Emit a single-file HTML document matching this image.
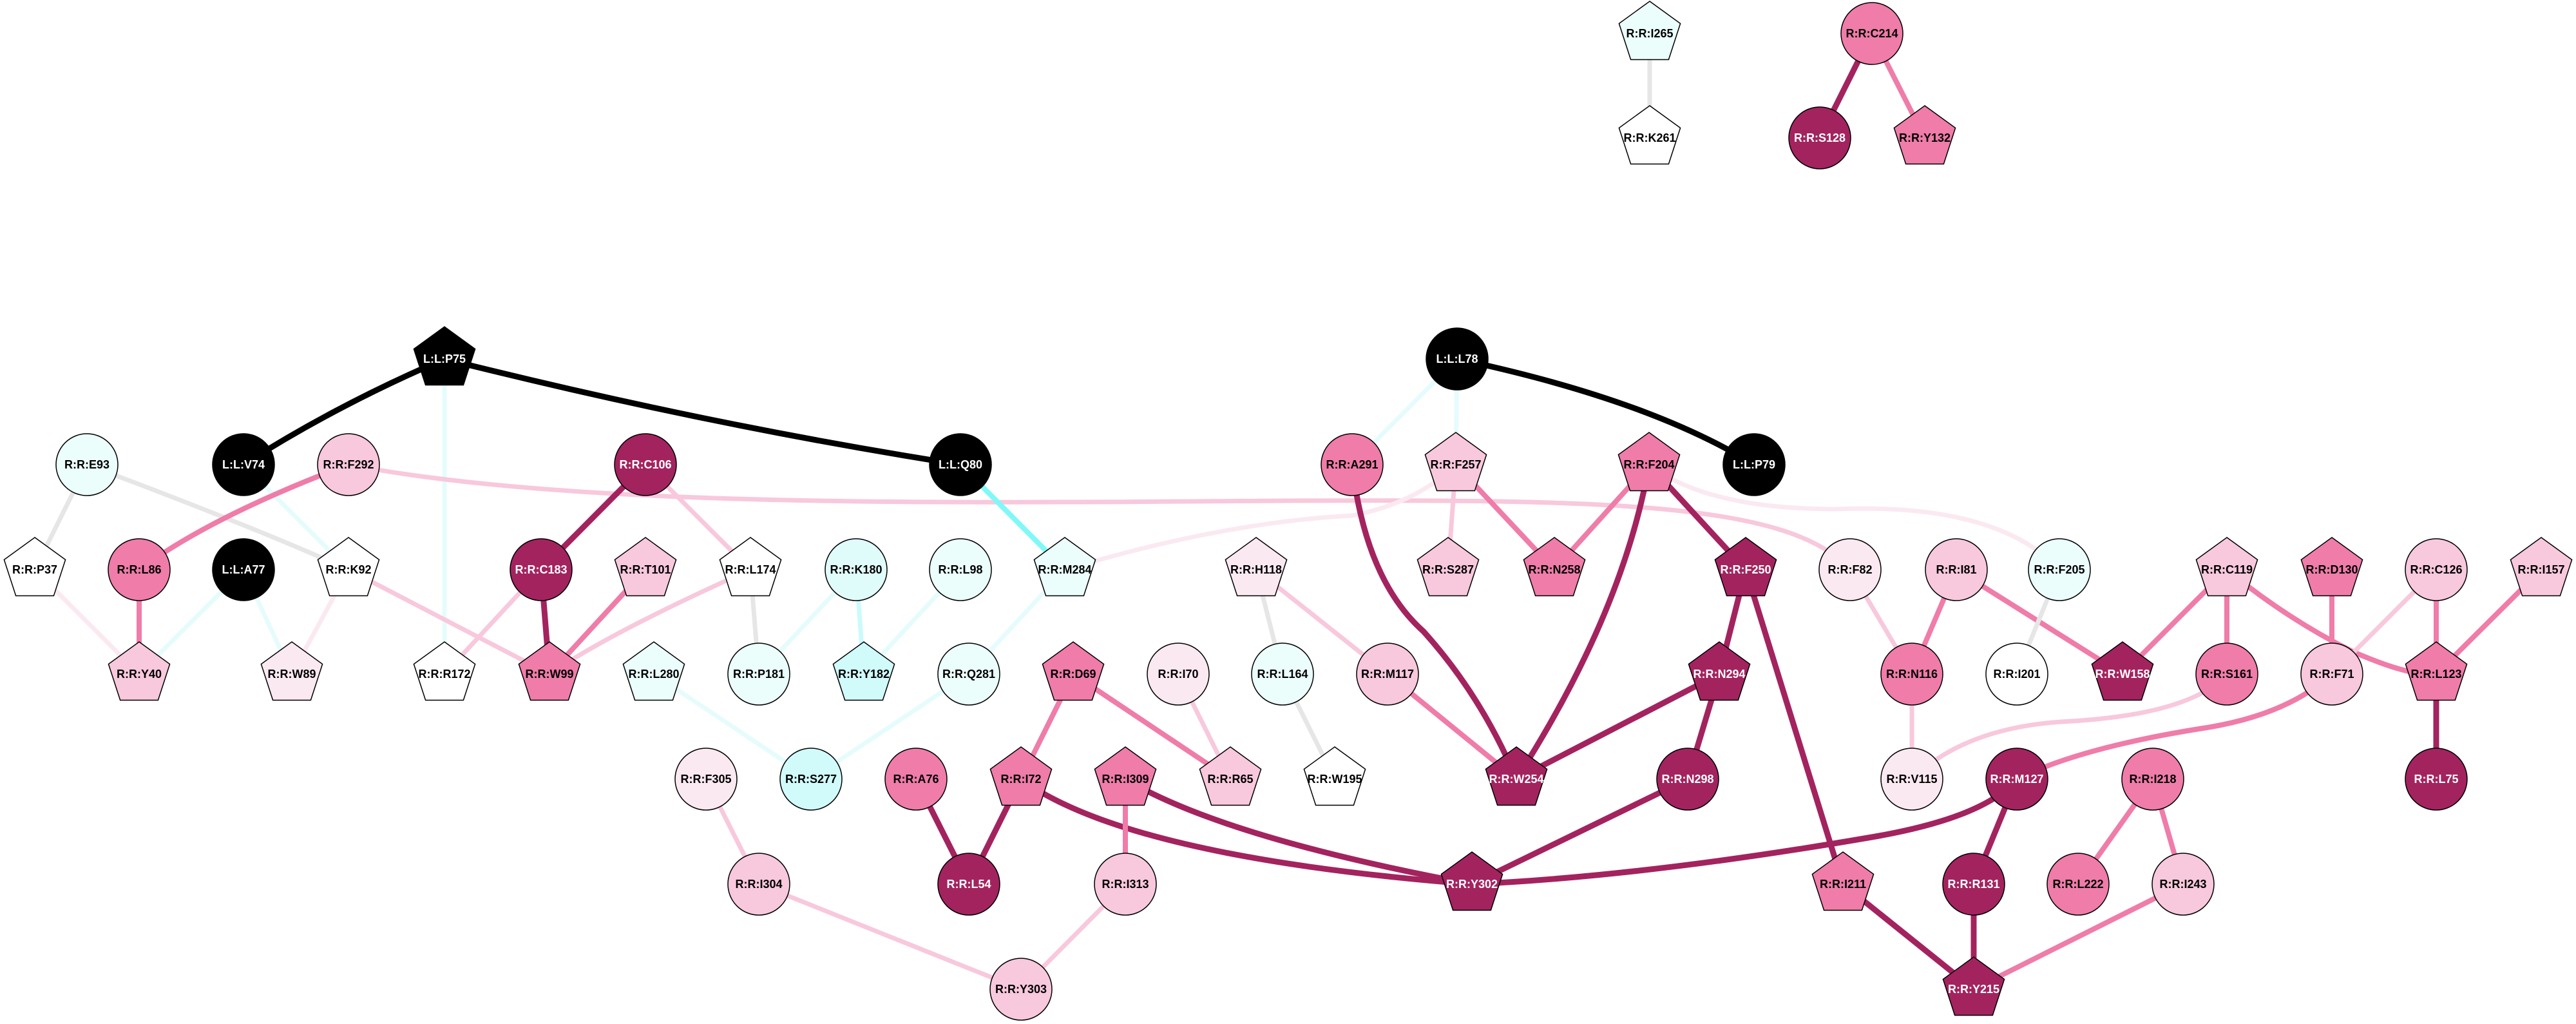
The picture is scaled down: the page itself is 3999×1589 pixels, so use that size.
<!DOCTYPE html>
<html><head><meta charset="utf-8"><style>
html,body{margin:0;padding:0;background:#fff;}
svg{display:block;}
text{font-family:"Liberation Sans",Arial,sans-serif;font-weight:bold;font-size:18px;text-anchor:middle;}
.w{fill:#fff}
.b{fill:#000}
.n{stroke:#000;stroke-width:1.5}
.e{fill:none;stroke-linecap:butt}
.k{stroke:#000;stroke-width:9}
.d{stroke:#a3235f;stroke-width:9}
.m{stroke:#ef7ca9;stroke-width:8}
.l{stroke:#f8c8dc;stroke-width:7}
.v{stroke:#fbe9f1;stroke-width:7}
.g{stroke:#e6e6e6;stroke-width:7}
.c{stroke:#e6fcfc;stroke-width:7}
.cc{stroke:#cbfafa;stroke-width:7}
.cy{stroke:#80f8f8;stroke-width:8}
</style></head><body>
<svg width="3999" height="1589" viewBox="0 0 3999 1589" xmlns="http://www.w3.org/2000/svg">
<defs>
<polygon id="p" points="0,-50 47.6,-15.5 29.4,40.5 -29.4,40.5 -47.6,-15.5"/>
</defs>
<!-- edges -->
<g class="e">
<line class="g" x1="2561" y1="52" x2="2561" y2="214"/>
<line class="d" x1="2906" y1="52" x2="2825" y2="214"/>
<line class="m" x1="2906" y1="52" x2="2988" y2="214"/>

<path class="k" d="M690 557 Q520 630 378 721"/>
<path class="k" d="M690 557 Q1100 660 1491 721"/>
<line class="c" x1="690" y1="557" x2="690" y2="1046"/>
<path class="k" d="M2262 557 Q2560 620 2723 721"/>
<line class="c" x1="2262" y1="557" x2="2099" y2="721"/>
<line class="c" x1="2262" y1="557" x2="2260" y2="721"/>

<line class="g" x1="135" y1="721" x2="54" y2="884"/>
<path class="g" d="M135 721 Q400 820 541 884"/>
<line class="c" x1="378" y1="721" x2="541" y2="884"/>
<path class="m" d="M541 721 Q330 800 216 884"/>
<path class="l" d="M541 721 C900 790 1500 780 2000 777 C2500 775 2780 780 2872 884"/>
<line class="v" x1="54" y1="884" x2="216" y2="1046"/>
<line class="m" x1="216" y1="884" x2="216" y2="1046"/>
<line class="c" x1="378" y1="884" x2="216" y2="1046"/>
<line class="c" x1="378" y1="884" x2="453" y2="1046"/>
<line class="v" x1="541" y1="884" x2="453" y2="1046"/>
<line class="l" x1="541" y1="884" x2="853" y2="1046"/>
<line class="d" x1="1002" y1="721" x2="840" y2="884"/>
<line class="l" x1="1002" y1="721" x2="1165" y2="884"/>
<line class="l" x1="840" y1="884" x2="690" y2="1046"/>
<line class="d" x1="840" y1="884" x2="853" y2="1046"/>
<line class="m" x1="1002" y1="884" x2="853" y2="1046"/>
<path class="l" d="M1165 884 Q950 980 853 1046"/>
<line class="g" x1="1165" y1="884" x2="1178" y2="1046"/>
<line class="c" x1="1329" y1="884" x2="1178" y2="1046"/>
<line class="cc" x1="1329" y1="884" x2="1341" y2="1046"/>
<line class="c" x1="1491" y1="884" x2="1341" y2="1046"/>
<line class="cy" x1="1491" y1="721" x2="1653" y2="884"/>
<line class="c" x1="1653" y1="884" x2="1504" y2="1046"/>
<path class="v" d="M1653 884 Q1900 810 2100 800 Q2200 780 2260 721"/>
<line class="c" x1="1504" y1="1046" x2="1259" y2="1209"/>
<line class="c" x1="1015" y1="1046" x2="1259" y2="1209"/>
<line class="g" x1="1950" y1="884" x2="1991" y2="1046"/>
<line class="l" x1="1950" y1="884" x2="2154" y2="1046"/>
<line class="g" x1="1991" y1="1046" x2="2072" y2="1209"/>
<line class="m" x1="2154" y1="1046" x2="2354" y2="1209"/>
<path class="d" d="M2099 721 Q2120 900 2210 980 Q2300 1080 2354 1209"/>
<line class="l" x1="2260" y1="721" x2="2248" y2="884"/>
<line class="m" x1="2260" y1="721" x2="2413" y2="884"/>
<line class="m" x1="2560" y1="721" x2="2413" y2="884"/>
<path class="d" d="M2560 721 Q2520 950 2354 1209"/>
<line class="d" x1="2560" y1="721" x2="2710" y2="884"/>
<path class="v" d="M2560 721 Q2650 790 2850 790 Q3100 780 3197 884"/>
<line class="d" x1="2710" y1="884" x2="2669" y2="1046"/>
<line class="d" x1="2710" y1="884" x2="2861" y2="1372"/>
<line class="d" x1="2669" y1="1046" x2="2354" y2="1209"/>
<line class="d" x1="2669" y1="1046" x2="2620" y2="1209"/>
<line class="d" x1="2620" y1="1209" x2="2285" y2="1372"/>
<path class="d" d="M3131 1209 Q3080 1270 2900 1300 Q2550 1360 2285 1372"/>
<path class="d" d="M1585 1209 Q1750 1330 2285 1372"/>
<path class="d" d="M1747 1209 Q1900 1300 2285 1372"/>
<line class="m" x1="1666" y1="1046" x2="1585" y2="1209"/>
<line class="m" x1="1666" y1="1046" x2="1910" y2="1209"/>
<line class="l" x1="1829" y1="1046" x2="1910" y2="1209"/>
<line class="d" x1="1422" y1="1209" x2="1504" y2="1372"/>
<line class="d" x1="1585" y1="1209" x2="1504" y2="1372"/>
<line class="m" x1="1747" y1="1209" x2="1747" y2="1372"/>
<line class="l" x1="1747" y1="1372" x2="1585" y2="1535"/>
<line class="l" x1="1178" y1="1372" x2="1585" y2="1535"/>
<line class="l" x1="1096" y1="1209" x2="1178" y2="1372"/>
<line class="l" x1="2872" y1="884" x2="2968" y2="1046"/>
<line class="m" x1="3037" y1="884" x2="2968" y2="1046"/>
<line class="m" x1="3037" y1="884" x2="3295" y2="1046"/>
<line class="g" x1="3197" y1="884" x2="3131" y2="1046"/>
<line class="l" x1="2968" y1="1046" x2="2968" y2="1209"/>
<path class="l" d="M2968 1209 Q3050 1130 3200 1120 Q3400 1110 3457 1046"/>
<line class="m" x1="3457" y1="884" x2="3295" y2="1046"/>
<line class="m" x1="3457" y1="884" x2="3457" y2="1046"/>
<path class="m" d="M3457 884 Q3550 960 3650 1010 Q3740 1050 3782 1046"/>
<line class="m" x1="3620" y1="884" x2="3620" y2="1046"/>
<line class="l" x1="3782" y1="884" x2="3620" y2="1046"/>
<line class="m" x1="3782" y1="884" x2="3782" y2="1046"/>
<line class="m" x1="3945" y1="884" x2="3782" y2="1046"/>
<line class="d" x1="3782" y1="1046" x2="3782" y2="1209"/>
<path class="m" d="M3620 1046 Q3550 1110 3420 1130 Q3230 1160 3131 1209"/>
<line class="d" x1="3131" y1="1209" x2="3064" y2="1372"/>
<line class="d" x1="3064" y1="1372" x2="3064" y2="1535"/>
<line class="d" x1="2861" y1="1372" x2="3064" y2="1535"/>
<line class="m" x1="3342" y1="1209" x2="3226" y2="1372"/>
<line class="m" x1="3342" y1="1209" x2="3389" y2="1372"/>
<line class="m" x1="3389" y1="1372" x2="3064" y2="1535"/>
</g>
<!-- nodes -->
<g class="n">
<use href="#p" x="2561" y="52" fill="#ebfefc"/>
<use href="#p" x="2561" y="214" fill="#fff"/>
<circle cx="2906" cy="52" r="48" fill="#ef7ca9"/>
<circle cx="2825" cy="214" r="48" fill="#a3235f"/>
<use href="#p" x="2988" y="214" fill="#ef7ca9"/>

<use href="#p" x="690" y="557" fill="#000"/>
<circle cx="2262" cy="557" r="48" fill="#000"/>
<circle cx="378" cy="721" r="48" fill="#000"/>
<circle cx="1491" cy="721" r="48" fill="#000"/>
<circle cx="2723" cy="721" r="48" fill="#000"/>
<circle cx="135" cy="721" r="48" fill="#ebfefc"/>
<circle cx="541" cy="721" r="48" fill="#f8c8dc"/>
<circle cx="1002" cy="721" r="48" fill="#a3235f"/>
<circle cx="2099" cy="721" r="48" fill="#ef7ca9"/>
<use href="#p" x="2260" y="721" fill="#f8c8dc"/>
<use href="#p" x="2560" y="721" fill="#ef7ca9"/>

<use href="#p" x="54" y="884" fill="#fff"/>
<circle cx="216" cy="884" r="48" fill="#ef7ca9"/>
<circle cx="378" cy="884" r="48" fill="#000"/>
<use href="#p" x="541" y="884" fill="#fff"/>
<circle cx="840" cy="884" r="48" fill="#a3235f"/>
<use href="#p" x="1002" y="884" fill="#f8c8dc"/>
<use href="#p" x="1165" y="884" fill="#fff"/>
<circle cx="1329" cy="884" r="48" fill="#e0fcfa"/>
<circle cx="1491" cy="884" r="48" fill="#ebfefc"/>
<use href="#p" x="1653" y="884" fill="#ebfefc"/>
<use href="#p" x="1950" y="884" fill="#fbe9f1"/>
<use href="#p" x="2248" y="884" fill="#f8c8dc"/>
<use href="#p" x="2413" y="884" fill="#ef7ca9"/>
<use href="#p" x="2710" y="884" fill="#a3235f"/>
<circle cx="2872" cy="884" r="48" fill="#fbe9f1"/>
<circle cx="3037" cy="884" r="48" fill="#f8c8dc"/>
<circle cx="3197" cy="884" r="48" fill="#ebfefc"/>
<use href="#p" x="3457" y="884" fill="#f8c8dc"/>
<use href="#p" x="3620" y="884" fill="#ef7ca9"/>
<circle cx="3782" cy="884" r="48" fill="#f8c8dc"/>
<use href="#p" x="3945" y="884" fill="#f8c8dc"/>

<use href="#p" x="216" y="1046" fill="#f8c8dc"/>
<use href="#p" x="453" y="1046" fill="#fbe9f1"/>
<use href="#p" x="690" y="1046" fill="#fff"/>
<use href="#p" x="853" y="1046" fill="#ef7ca9"/>
<use href="#p" x="1015" y="1046" fill="#ebfefc"/>
<circle cx="1178" cy="1046" r="48" fill="#ebfefc"/>
<use href="#p" x="1341" y="1046" fill="#d1fbfb"/>
<circle cx="1504" cy="1046" r="48" fill="#ebfefc"/>
<use href="#p" x="1666" y="1046" fill="#ef7ca9"/>
<circle cx="1829" cy="1046" r="48" fill="#fbe9f1"/>
<circle cx="1991" cy="1046" r="48" fill="#ebfefc"/>
<circle cx="2154" cy="1046" r="48" fill="#f8c8dc"/>
<use href="#p" x="2669" y="1046" fill="#a3235f"/>
<circle cx="2968" cy="1046" r="48" fill="#ef7ca9"/>
<circle cx="3131" cy="1046" r="48" fill="#fff"/>
<use href="#p" x="3295" y="1046" fill="#a3235f"/>
<circle cx="3457" cy="1046" r="48" fill="#ef7ca9"/>
<circle cx="3620" cy="1046" r="48" fill="#f8c8dc"/>
<use href="#p" x="3782" y="1046" fill="#ef7ca9"/>

<circle cx="1096" cy="1209" r="48" fill="#fbe9f1"/>
<circle cx="1259" cy="1209" r="48" fill="#d1fbfb"/>
<circle cx="1422" cy="1209" r="48" fill="#ef7ca9"/>
<use href="#p" x="1585" y="1209" fill="#ef7ca9"/>
<use href="#p" x="1747" y="1209" fill="#ef7ca9"/>
<use href="#p" x="1910" y="1209" fill="#f8c8dc"/>
<use href="#p" x="2072" y="1209" fill="#fff"/>
<use href="#p" x="2354" y="1209" fill="#a3235f"/>
<circle cx="2620" cy="1209" r="48" fill="#a3235f"/>
<circle cx="2968" cy="1209" r="48" fill="#fbe9f1"/>
<circle cx="3131" cy="1209" r="48" fill="#a3235f"/>
<circle cx="3342" cy="1209" r="48" fill="#ef7ca9"/>
<circle cx="3782" cy="1209" r="48" fill="#a3235f"/>

<circle cx="1178" cy="1372" r="48" fill="#f8c8dc"/>
<circle cx="1504" cy="1372" r="48" fill="#a3235f"/>
<circle cx="1747" cy="1372" r="48" fill="#f8c8dc"/>
<use href="#p" x="2285" y="1372" fill="#a3235f"/>
<use href="#p" x="2861" y="1372" fill="#ef7ca9"/>
<circle cx="3064" cy="1372" r="48" fill="#a3235f"/>
<circle cx="3226" cy="1372" r="48" fill="#ef7ca9"/>
<circle cx="3389" cy="1372" r="48" fill="#f8c8dc"/>
<circle cx="1585" cy="1535" r="48" fill="#f8c8dc"/>
<use href="#p" x="3064" y="1535" fill="#a3235f"/>
</g>
<!-- labels -->
<g>
<text x="2561" y="58">R:R:I265</text>
<text x="2561" y="220">R:R:K261</text>
<text x="2906" y="58">R:R:C214</text>
<text x="2825" y="220" class="w">R:R:S128</text>
<text x="2988" y="220">R:R:Y132</text>
<text x="690" y="563" class="w">L:L:P75</text>
<text x="2262" y="563" class="w">L:L:L78</text>
<text x="378" y="727" class="w">L:L:V74</text>
<text x="1491" y="727" class="w">L:L:Q80</text>
<text x="2723" y="727" class="w">L:L:P79</text>
<text x="135" y="727">R:R:E93</text>
<text x="541" y="727">R:R:F292</text>
<text x="1002" y="727" class="w">R:R:C106</text>
<text x="2099" y="727">R:R:A291</text>
<text x="2260" y="727">R:R:F257</text>
<text x="2560" y="727">R:R:F204</text>
<text x="54" y="890">R:R:P37</text>
<text x="216" y="890">R:R:L86</text>
<text x="378" y="890" class="w">L:L:A77</text>
<text x="541" y="890">R:R:K92</text>
<text x="840" y="890" class="w">R:R:C183</text>
<text x="1002" y="890">R:R:T101</text>
<text x="1165" y="890">R:R:L174</text>
<text x="1329" y="890">R:R:K180</text>
<text x="1491" y="890">R:R:L98</text>
<text x="1653" y="890">R:R:M284</text>
<text x="1950" y="890">R:R:H118</text>
<text x="2248" y="890">R:R:S287</text>
<text x="2413" y="890">R:R:N258</text>
<text x="2710" y="890" class="w">R:R:F250</text>
<text x="2872" y="890">R:R:F82</text>
<text x="3037" y="890">R:R:I81</text>
<text x="3197" y="890">R:R:F205</text>
<text x="3457" y="890">R:R:C119</text>
<text x="3620" y="890">R:R:D130</text>
<text x="3782" y="890">R:R:C126</text>
<text x="3945" y="890">R:R:I157</text>
<text x="216" y="1052">R:R:Y40</text>
<text x="453" y="1052">R:R:W89</text>
<text x="690" y="1052">R:R:R172</text>
<text x="853" y="1052">R:R:W99</text>
<text x="1015" y="1052">R:R:L280</text>
<text x="1178" y="1052">R:R:P181</text>
<text x="1341" y="1052">R:R:Y182</text>
<text x="1504" y="1052">R:R:Q281</text>
<text x="1666" y="1052">R:R:D69</text>
<text x="1829" y="1052">R:R:I70</text>
<text x="1991" y="1052">R:R:L164</text>
<text x="2154" y="1052">R:R:M117</text>
<text x="2669" y="1052" class="w">R:R:N294</text>
<text x="2968" y="1052">R:R:N116</text>
<text x="3131" y="1052">R:R:I201</text>
<text x="3295" y="1052" class="w">R:R:W158</text>
<text x="3457" y="1052">R:R:S161</text>
<text x="3620" y="1052">R:R:F71</text>
<text x="3782" y="1052">R:R:L123</text>
<text x="1096" y="1215">R:R:F305</text>
<text x="1259" y="1215">R:R:S277</text>
<text x="1422" y="1215">R:R:A76</text>
<text x="1585" y="1215">R:R:I72</text>
<text x="1747" y="1215">R:R:I309</text>
<text x="1910" y="1215">R:R:R65</text>
<text x="2072" y="1215">R:R:W195</text>
<text x="2354" y="1215" class="w">R:R:W254</text>
<text x="2620" y="1215" class="w">R:R:N298</text>
<text x="2968" y="1215">R:R:V115</text>
<text x="3131" y="1215" class="w">R:R:M127</text>
<text x="3342" y="1215">R:R:I218</text>
<text x="3782" y="1215" class="w">R:R:L75</text>
<text x="1178" y="1378">R:R:I304</text>
<text x="1504" y="1378" class="w">R:R:L54</text>
<text x="1747" y="1378">R:R:I313</text>
<text x="2285" y="1378" class="w">R:R:Y302</text>
<text x="2861" y="1378">R:R:I211</text>
<text x="3064" y="1378" class="w">R:R:R131</text>
<text x="3226" y="1378">R:R:L222</text>
<text x="3389" y="1378">R:R:I243</text>
<text x="1585" y="1541">R:R:Y303</text>
<text x="3064" y="1541" class="w">R:R:Y215</text>
</g>
</svg>
</body></html>
